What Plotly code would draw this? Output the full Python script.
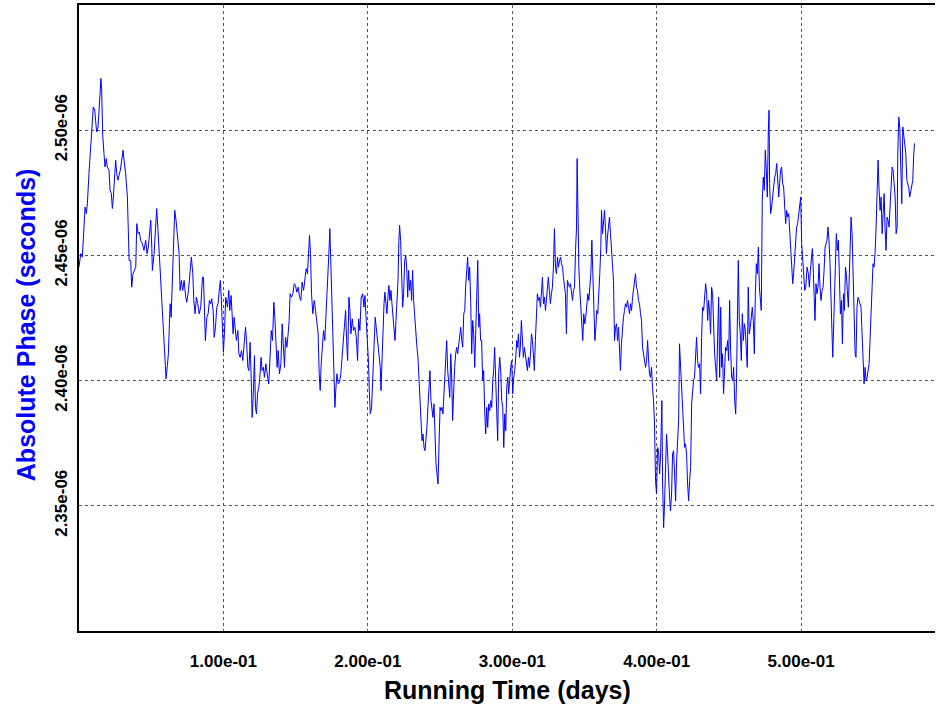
import plotly.graph_objects as go

# Running time (days)
running_time_days = [
    # segment 0 .. 0.10
    0.0000, 0.0012, 0.0023, 0.0035, 0.0042, 0.0051, 0.0058, 0.0069, 0.0081, 0.0092,
    0.0099, 0.0109, 0.0116, 0.0122, 0.0132, 0.0139, 0.0146, 0.0152, 0.0157, 0.0164,
    0.0173, 0.0180, 0.0189, 0.0196, 0.0208, 0.0215, 0.0224, 0.0231, 0.0238, 0.0245,
    0.0254, 0.0261, 0.0270, 0.0277, 0.0286, 0.0296, 0.0305, 0.0312, 0.0323, 0.0335,
    0.0342, 0.0347, 0.0358, 0.0365, 0.0374, 0.0383, 0.0393, 0.0400, 0.0409, 0.0418,
    0.0427, 0.0439, 0.0450, 0.0462, 0.0471, 0.0480, 0.0490, 0.0497, 0.0504, 0.0508,
    0.0520, 0.0529, 0.0538, 0.0547, 0.0554, 0.0566, 0.0578, 0.0587, 0.0596, 0.0603,
    0.0612, 0.0619, 0.0626, 0.0631, 0.0638, 0.0647, 0.0656, 0.0663, 0.0672, 0.0681,
    0.0693, 0.0700, 0.0709, 0.0718, 0.0728, 0.0739, 0.0746, 0.0758, 0.0769, 0.0778,
    0.0788, 0.0795, 0.0804, 0.0813, 0.0822, 0.0832, 0.0843, 0.0855, 0.0862, 0.0869,
    0.0875, 0.0885, 0.0894, 0.0903, 0.0912, 0.0919, 0.0929, 0.0936, 0.0945, 0.0954,
    0.0963, 0.0973, 0.0979, 0.0986, 0.0993, 0.1000, 0.1007, 0.1016, 0.1028, 0.1035,
    # 0.10 .. 0.20
    0.1037, 0.1044, 0.1053, 0.1060, 0.1067, 0.1074, 0.1083, 0.1090, 0.1100, 0.1107,
    0.1116, 0.1125, 0.1134, 0.1143, 0.1153, 0.1160, 0.1169, 0.1176, 0.1185, 0.1194,
    0.1199, 0.1206, 0.1215, 0.1222, 0.1229, 0.1236, 0.1245, 0.1252, 0.1261, 0.1268,
    0.1277, 0.1284, 0.1294, 0.1303, 0.1314, 0.1324, 0.1331, 0.1340, 0.1349, 0.1356,
    0.1363, 0.1372, 0.1379, 0.1388, 0.1398, 0.1407, 0.1414, 0.1423, 0.1430, 0.1439,
    0.1448, 0.1455, 0.1462, 0.1471, 0.1481, 0.1490, 0.1499, 0.1508, 0.1518, 0.1527,
    0.1536, 0.1545, 0.1555, 0.1564, 0.1573, 0.1582, 0.1589, 0.1596, 0.1603, 0.1610,
    0.1619, 0.1629, 0.1638, 0.1647, 0.1656, 0.1663, 0.1670, 0.1677, 0.1684, 0.1693,
    0.1702, 0.1712, 0.1721, 0.1730, 0.1737, 0.1744, 0.1751, 0.1758, 0.1765, 0.1772,
    0.1779, 0.1786, 0.1795, 0.1804, 0.1813, 0.1823, 0.1830, 0.1839, 0.1846, 0.1853,
    0.1860, 0.1869, 0.1876, 0.1883, 0.1892, 0.1901, 0.1910, 0.1920, 0.1929, 0.1936,
    0.1945, 0.1954, 0.1964, 0.1973, 0.1980, 0.1989, 0.1998, 0.2005, 0.2010, 0.2017, 0.2026,
    # 0.20 .. 0.30
    0.2031, 0.2038, 0.2045, 0.2051, 0.2058, 0.2065, 0.2072, 0.2079, 0.2086, 0.2091,
    0.2098, 0.2105, 0.2112, 0.2118, 0.2125, 0.2132, 0.2139, 0.2146, 0.2153, 0.2160,
    0.2167, 0.2174, 0.2181, 0.2188, 0.2195, 0.2202, 0.2209, 0.2215, 0.2220, 0.2227,
    0.2234, 0.2241, 0.2248, 0.2255, 0.2262, 0.2269, 0.2276, 0.2282, 0.2289, 0.2296,
    0.2303, 0.2310, 0.2317, 0.2324, 0.2333, 0.2340, 0.2347, 0.2354, 0.2361, 0.2368,
    0.2375, 0.2382, 0.2389, 0.2396, 0.2403, 0.2409, 0.2416, 0.2423, 0.2430, 0.2437,
    0.2444, 0.2451, 0.2458, 0.2465, 0.2472, 0.2479, 0.2486, 0.2493, 0.2500, 0.2507,
    0.2513, 0.2520, 0.2527, 0.2534, 0.2541, 0.2546, 0.2553, 0.2560, 0.2567, 0.2574,
    0.2580, 0.2587, 0.2594, 0.2601, 0.2608, 0.2615, 0.2622, 0.2629, 0.2636, 0.2643,
    0.2650, 0.2657, 0.2664, 0.2671, 0.2677, 0.2684, 0.2691, 0.2698, 0.2705, 0.2712,
    0.2719, 0.2726, 0.2733, 0.2740, 0.2747, 0.2754, 0.2761, 0.2768, 0.2774, 0.2781,
    0.2788, 0.2795, 0.2802, 0.2809, 0.2816, 0.2823, 0.2830, 0.2837, 0.2844, 0.2851,
    0.2858, 0.2865, 0.2871, 0.2878, 0.2885, 0.2892, 0.2899, 0.2906, 0.2913, 0.2920,
    0.2927, 0.2934, 0.2941, 0.2948, 0.2955, 0.2962, 0.2969, 0.2975, 0.2982, 0.2989,
    0.2996, 0.3003, 0.3010, 0.3017, 0.3024, 0.3031,
    # 0.30 .. 0.40
    0.3036, 0.3043, 0.3050, 0.3056, 0.3063, 0.3070, 0.3077, 0.3084, 0.3091, 0.3098,
    0.3105, 0.3112, 0.3119, 0.3126, 0.3133, 0.3140, 0.3147, 0.3153, 0.3160, 0.3167,
    0.3174, 0.3181, 0.3188, 0.3195, 0.3202, 0.3209, 0.3216, 0.3223, 0.3230, 0.3237,
    0.3244, 0.3250, 0.3257, 0.3264, 0.3271, 0.3278, 0.3285, 0.3292, 0.3299, 0.3306,
    0.3313, 0.3320, 0.3327, 0.3334, 0.3341, 0.3348, 0.3354, 0.3361, 0.3368, 0.3375,
    0.3382, 0.3389, 0.3396, 0.3403, 0.3410, 0.3417, 0.3424, 0.3431, 0.3438, 0.3445,
    0.3449, 0.3454,
    0.3461, 0.3468, 0.3475, 0.3481, 0.3488, 0.3495, 0.3502, 0.3509, 0.3516, 0.3523,
    0.3530, 0.3537, 0.3544, 0.3551, 0.3558, 0.3565, 0.3572, 0.3579, 0.3585, 0.3592,
    0.3599, 0.3606, 0.3613,
    0.3618,
    0.3625, 0.3632, 0.3639, 0.3645, 0.3652, 0.3659, 0.3666, 0.3673, 0.3680, 0.3687,
    0.3694, 0.3701, 0.3708, 0.3715, 0.3722, 0.3729, 0.3736, 0.3743, 0.3749, 0.3756,
    0.3763, 0.3770, 0.3777, 0.3784, 0.3791, 0.3798, 0.3805, 0.3812, 0.3819, 0.3826,
    0.3833, 0.3840, 0.3846, 0.3853, 0.3860, 0.3867, 0.3874, 0.3881, 0.3888, 0.3895,
    0.3902, 0.3909, 0.3916, 0.3923, 0.3930, 0.3937, 0.3943, 0.3950, 0.3957, 0.3964,
    0.3971, 0.3978, 0.3985, 0.3992, 0.3999, 0.4006, 0.4013, 0.4020, 0.4027,
    0.4036,
    # 0.40 .. 0.50
    0.4041, 0.4048, 0.4055, 0.4061, 0.4068, 0.4075, 0.4082, 0.4089, 0.4096, 0.4103,
    0.4110, 0.4117, 0.4124, 0.4131, 0.4138, 0.4145, 0.4152, 0.4158, 0.4165, 0.4172,
    0.4179, 0.4186, 0.4193, 0.4200, 0.4207, 0.4214, 0.4221, 0.4228, 0.4235, 0.4242,
    0.4249, 0.4255, 0.4262, 0.4269, 0.4276, 0.4283, 0.4290, 0.4297, 0.4304, 0.4311,
    0.4318, 0.4325, 0.4332, 0.4339, 0.4346, 0.4353, 0.4359, 0.4366, 0.4373, 0.4380,
    0.4387, 0.4394, 0.4401, 0.4408, 0.4415, 0.4422, 0.4429, 0.4436, 0.4443, 0.4450,
    0.4456, 0.4463, 0.4470, 0.4477, 0.4484, 0.4491, 0.4498, 0.4505, 0.4512, 0.4519,
    0.4526, 0.4533, 0.4540, 0.4547, 0.4553, 0.4560,
    0.4565,
    0.4572, 0.4579, 0.4586, 0.4593, 0.4600, 0.4607, 0.4614, 0.4620, 0.4627, 0.4634,
    0.4641, 0.4648, 0.4655, 0.4662, 0.4669, 0.4676, 0.4683, 0.4690, 0.4697, 0.4704,
    0.4711, 0.4717, 0.4724, 0.4731, 0.4738, 0.4745, 0.4752, 0.4759, 0.4766, 0.4773,
    0.4778, 0.4782,
    0.4789, 0.4796, 0.4803, 0.4810, 0.4817, 0.4824, 0.4831, 0.4838, 0.4845, 0.4851,
    0.4858, 0.4865, 0.4872, 0.4879, 0.4886, 0.4893, 0.4900, 0.4907, 0.4914, 0.4921,
    0.4928, 0.4935, 0.4942, 0.4948, 0.4955, 0.4962, 0.4969, 0.4976, 0.4983, 0.4990,
    0.4997, 0.5004, 0.5011, 0.5018, 0.5025, 0.5032,
    0.5041,
    # 0.50 .. end
    0.5050, 0.5057, 0.5064, 0.5071, 0.5078, 0.5085, 0.5092, 0.5096, 0.5103, 0.5110,
    0.5117, 0.5124, 0.5131, 0.5138, 0.5145, 0.5152, 0.5159, 0.5166, 0.5173, 0.5179,
    0.5186, 0.5193, 0.5200, 0.5207, 0.5214, 0.5219, 0.5226, 0.5230, 0.5237, 0.5244,
    0.5251, 0.5258, 0.5265, 0.5272, 0.5279, 0.5286, 0.5293, 0.5300, 0.5307, 0.5313,
    0.5320, 0.5327, 0.5334, 0.5341, 0.5346, 0.5353, 0.5360, 0.5367, 0.5374, 0.5380,
    0.5387, 0.5394, 0.5401, 0.5408, 0.5415, 0.5422, 0.5429, 0.5436, 0.5443, 0.5450,
    0.5457, 0.5464, 0.5471, 0.5477, 0.5484, 0.5491, 0.5498, 0.5505, 0.5512, 0.5519,
    0.5526, 0.5533, 0.5540, 0.5547, 0.5554, 0.5561, 0.5568, 0.5575, 0.5581, 0.5588,
    0.5595, 0.5602, 0.5609, 0.5616, 0.5623, 0.5630, 0.5637, 0.5644, 0.5651, 0.5658,
    0.5665, 0.5669, 0.5676, 0.5683, 0.5690, 0.5697, 0.5704, 0.5711, 0.5718, 0.5725,
    0.5732, 0.5739, 0.5745, 0.5752, 0.5759, 0.5766, 0.5773, 0.5780, 0.5785,
]

# Absolute phase in microseconds
phase_us = [
    2.4453, 2.4507, 2.4493, 2.4627, 2.4693, 2.4667, 2.4707, 2.4827, 2.4933, 2.4993,
    2.5093, 2.5080, 2.5040, 2.4993, 2.5013, 2.5093, 2.5153, 2.5207, 2.5160, 2.4980,
    2.4907, 2.4853, 2.4887, 2.4853, 2.4840, 2.4760, 2.4747, 2.4687, 2.4733, 2.4813,
    2.4880, 2.4827, 2.4800, 2.4820, 2.4840, 2.4880, 2.4920, 2.4880, 2.4827, 2.4733,
    2.4587, 2.4480, 2.4480, 2.4373, 2.4427, 2.4440, 2.4453, 2.4627, 2.4587, 2.4593,
    2.4560, 2.4547, 2.4520, 2.4560, 2.4507, 2.4533, 2.4587, 2.4640, 2.4533, 2.4440,
    2.4507, 2.4587, 2.4687, 2.4600, 2.4520, 2.4387, 2.4293, 2.4147, 2.4067, 2.4007,
    2.4060, 2.4107, 2.4227, 2.4307, 2.4253, 2.4440, 2.4627, 2.4680, 2.4640, 2.4587,
    2.4507, 2.4360, 2.4400, 2.4360, 2.4400, 2.4333, 2.4313, 2.4360, 2.4427, 2.4493,
    2.4427, 2.4320, 2.4267, 2.4333, 2.4307, 2.4267, 2.4293, 2.4413, 2.4413, 2.4267,
    2.4160, 2.4253, 2.4267, 2.4320, 2.4307, 2.4327, 2.4280, 2.4173, 2.4213, 2.4293,
    2.4307, 2.4373, 2.4400, 2.4320, 2.4173, 2.4113, 2.4187, 2.4333, 2.4293, 2.4360,
    # 0.10 .. 0.20
    2.4360, 2.4280, 2.4340, 2.4267, 2.4187, 2.4253, 2.4213, 2.4160, 2.4200, 2.4107,
    2.4093, 2.4120, 2.4080, 2.4133, 2.4213, 2.4160, 2.4053, 2.4040, 2.4153, 2.3973,
    2.3853, 2.3933, 2.4100, 2.3893, 2.3867, 2.3947, 2.3973, 2.4013, 2.4093, 2.4040,
    2.4053, 2.4013, 2.4067, 2.4027, 2.3987, 2.4107, 2.4200, 2.4160, 2.4313, 2.4253,
    2.4133, 2.4053, 2.4120, 2.4027, 2.4067, 2.4227, 2.4147, 2.4053, 2.4173, 2.4133,
    2.4187, 2.4240, 2.4347, 2.4333, 2.4347, 2.4387, 2.4380, 2.4353, 2.4373, 2.4333,
    2.4320, 2.4393, 2.4360, 2.4400, 2.4447, 2.4427, 2.4493, 2.4580, 2.4507, 2.4347,
    2.4267, 2.4320, 2.4280, 2.4227, 2.4187, 2.4027, 2.3960, 2.4067, 2.4133, 2.4200,
    2.4160, 2.4267, 2.4360, 2.4507, 2.4607, 2.4440, 2.4280, 2.4107, 2.4000, 2.3893,
    2.3973, 2.4027, 2.3987, 2.3993, 2.4027, 2.4107, 2.4147, 2.4240, 2.4280, 2.4160,
    2.4080, 2.4333, 2.4280, 2.4187, 2.4247, 2.4200, 2.4213, 2.4173, 2.4080, 2.4247,
    2.4200, 2.4333, 2.4347, 2.4293, 2.4340, 2.4240, 2.4160, 2.4067, 2.3960, 2.3867, 2.3893,
    # 0.20 .. 0.30
    2.3973, 2.4120, 2.4200, 2.4253, 2.4213, 2.4173, 2.4120, 2.4067, 2.4053, 2.3960,
    2.4107, 2.4200, 2.4307, 2.4353, 2.4320, 2.4267, 2.4333, 2.4380, 2.4320, 2.4360,
    2.4307, 2.4267, 2.4213, 2.4160, 2.4240, 2.4333, 2.4400, 2.4560, 2.4620, 2.4560,
    2.4400, 2.4293, 2.4347, 2.4480, 2.4500, 2.4453, 2.4333, 2.4440, 2.4360, 2.4400,
    2.4320, 2.4440, 2.4320, 2.4253, 2.4160, 2.4133, 2.4093, 2.4013, 2.3920, 2.3813,
    2.3760, 2.3787, 2.3733, 2.3720, 2.3760, 2.3813, 2.3893, 2.3947, 2.4040, 2.3920,
    2.3893, 2.3853, 2.3907, 2.3720, 2.3667, 2.3627, 2.3587, 2.3747, 2.3893, 2.3880,
    2.3893, 2.3867, 2.3947, 2.3973, 2.4080, 2.4160, 2.4040, 2.3973, 2.3933, 2.4107,
    2.4027, 2.3840, 2.4000, 2.4053, 2.4107, 2.4133, 2.4107, 2.4147, 2.4200, 2.4213,
    2.4160, 2.4133, 2.4267, 2.4280, 2.4373, 2.4427, 2.4493, 2.4400, 2.4453, 2.4320,
    2.4107, 2.4240, 2.4187, 2.4053, 2.4213, 2.4293, 2.4480, 2.4213, 2.4267, 2.4160,
    2.4160, 2.4000, 2.4040, 2.3880, 2.3787, 2.3893, 2.3813, 2.3907, 2.3880, 2.3920,
    2.3893, 2.4000, 2.4040, 2.4133, 2.4013, 2.3947, 2.3760, 2.4027, 2.4093, 2.4040,
    2.3920, 2.3893, 2.3733, 2.3867, 2.3800, 2.3973, 2.4013, 2.3947, 2.4027, 2.4053,
    2.4080, 2.3947, 2.4013, 2.4040, 2.4093, 2.4160,
    # 0.30 .. 0.40
    2.4133, 2.4187, 2.4093, 2.4133, 2.4240, 2.4147, 2.4093, 2.4133, 2.4107, 2.4080,
    2.4040, 2.4093, 2.4053, 2.4107, 2.4187, 2.4160, 2.4080, 2.4040, 2.4160, 2.4293,
    2.4347, 2.4320, 2.4333, 2.4293, 2.4387, 2.4413, 2.4307, 2.4333, 2.4280, 2.4320,
    2.4387, 2.4413, 2.4360, 2.4307, 2.4347, 2.4373, 2.4453, 2.4607, 2.4453, 2.4427,
    2.4493, 2.4453, 2.4480, 2.4493, 2.4467, 2.4453, 2.4413, 2.4373, 2.4347, 2.4187,
    2.4400, 2.4387, 2.4373, 2.4387, 2.4347, 2.4320, 2.4360, 2.4373, 2.4520, 2.4613,
    2.4887, 2.4573,
    2.4453, 2.4360, 2.4293, 2.4227, 2.4160, 2.4267, 2.4227, 2.4253, 2.4293, 2.4347,
    2.4320, 2.4360, 2.4427, 2.4560, 2.4453, 2.4280, 2.4160, 2.4213, 2.4280, 2.4267,
    2.4333, 2.4427, 2.4533,
    2.4680,
    2.4587, 2.4653, 2.4680, 2.4613, 2.4507, 2.4573, 2.4627, 2.4653, 2.4587, 2.4533,
    2.4480, 2.4400, 2.4160, 2.4213, 2.4227, 2.4160, 2.4213, 2.4133, 2.4040, 2.4147,
    2.4213, 2.4253, 2.4280, 2.4307, 2.4293, 2.4320, 2.4293, 2.4267, 2.4307, 2.4280,
    2.4333, 2.4373, 2.4400, 2.4427, 2.4373, 2.4360, 2.4320, 2.4307, 2.4267, 2.4240,
    2.4133, 2.4107, 2.4067, 2.4053, 2.4080, 2.4160, 2.4093, 2.4027, 2.4013, 2.4053,
    2.3973, 2.3920, 2.3827, 2.3600, 2.3547, 2.3733, 2.3720, 2.3627, 2.3707,
    2.3920,
    # 0.40 .. 0.50
    2.3587, 2.3413, 2.3520, 2.3653, 2.3787, 2.3720, 2.3587, 2.3533, 2.3480, 2.3547,
    2.3707, 2.3720, 2.3627, 2.3520, 2.3680, 2.3787, 2.3840, 2.4147, 2.4067, 2.3947,
    2.3907, 2.3840, 2.3733, 2.3747, 2.3707, 2.3587, 2.3520, 2.3600, 2.3653, 2.3907,
    2.3973, 2.4000, 2.4013, 2.4080, 2.4173, 2.4080, 2.4053, 2.4067, 2.3947, 2.4173,
    2.4293, 2.4280, 2.4320, 2.4387, 2.4347, 2.4240, 2.4320, 2.4280, 2.4187, 2.4373,
    2.4347, 2.4200, 2.4107, 2.4053, 2.4000, 2.4173, 2.4333, 2.4013, 2.4293, 2.4053,
    2.4107, 2.3947, 2.4067, 2.4133, 2.4120, 2.4160, 2.4080, 2.4320, 2.4120, 2.4013,
    2.4000, 2.4053, 2.3920, 2.3867, 2.4013, 2.4333,
    2.4480,
    2.4240, 2.4187, 2.4080, 2.4267, 2.4160, 2.4227, 2.4200, 2.4107, 2.4053, 2.4373,
    2.4187, 2.4213, 2.4267, 2.4293, 2.4240, 2.4107, 2.4347, 2.4467, 2.4427, 2.4533,
    2.4373, 2.4320, 2.4280, 2.4720, 2.4813, 2.4760, 2.4920, 2.4840, 2.4733, 2.5000,
    2.5080, 2.4787,
    2.4667, 2.4693, 2.4747, 2.4773, 2.4813, 2.4827, 2.4867, 2.4800, 2.4733, 2.4787,
    2.4840, 2.4853, 2.4787, 2.4773, 2.4693, 2.4627, 2.4680, 2.4653, 2.4667, 2.4587,
    2.4547, 2.4413, 2.4387, 2.4427, 2.4507, 2.4587, 2.4613, 2.4627, 2.4667, 2.4707,
    2.4733, 2.4547, 2.4493, 2.4427, 2.4360, 2.4373,
    2.4453,
    # 0.50 .. end
    2.4427, 2.4373, 2.4440, 2.4493, 2.4527, 2.4427, 2.4307, 2.4240, 2.4387, 2.4347,
    2.4373, 2.4467, 2.4373, 2.4320, 2.4360, 2.4373, 2.4440, 2.4533, 2.4547, 2.4560,
    2.4613, 2.4560, 2.4467, 2.4360, 2.4187, 2.4093, 2.4280, 2.4400, 2.4453, 2.4587,
    2.4520, 2.4560, 2.4360, 2.4267, 2.4320, 2.4147, 2.4347, 2.4280, 2.4453, 2.4427,
    2.4360, 2.4293, 2.4427, 2.4533, 2.4653, 2.4587, 2.4453, 2.4240, 2.4107, 2.4093,
    2.4293, 2.4333, 2.4320, 2.4307, 2.4293, 2.4187, 2.4067, 2.3987, 2.4053, 2.4000,
    2.4013, 2.4040, 2.4067, 2.4160, 2.4253, 2.4373, 2.4467, 2.4453, 2.4507, 2.4613,
    2.4813, 2.4880, 2.4760, 2.4680, 2.4733, 2.4587, 2.4667, 2.4747, 2.4613, 2.4520,
    2.4653, 2.4640, 2.4613, 2.4707, 2.4773, 2.4853, 2.4840, 2.4760, 2.4733, 2.4587,
    2.4613, 2.4893, 2.5053, 2.5013, 2.4853, 2.4707, 2.5013, 2.4973, 2.4933, 2.4907,
    2.4800, 2.4787, 2.4773, 2.4733, 2.4760, 2.4787, 2.4800, 2.4907, 2.4947,
]

x_tick_vals = [0.1, 0.2, 0.3, 0.4, 0.5]
x_tick_text = ["1.00e-01", "2.00e-01", "3.00e-01", "4.00e-01", "5.00e-01"]
y_tick_vals = [2.35e-06, 2.40e-06, 2.45e-06, 2.50e-06]
y_tick_text = ["2.35e-06", "2.40e-06", "2.45e-06", "2.50e-06"]

phase_seconds = [v * 1e-6 for v in phase_us]

FONT = "Liberation Sans, Arial, sans-serif"

fig = go.Figure()
fig.add_trace(go.Scatter(
    x=running_time_days, y=phase_seconds, mode="lines",
    line=dict(color="#0000ff", width=1), hoverinfo="skip",
))

fig.update_layout(
    width=937, height=708,
    margin=dict(l=79, r=2, t=5, b=77, autoexpand=False),
    plot_bgcolor="white", paper_bgcolor="white",
    showlegend=False,
    xaxis=dict(
        range=[0, 0.5927], tickvals=x_tick_vals, ticktext=x_tick_text,
        showgrid=True, gridcolor="#555555", griddash="dot", gridwidth=1,
        showline=True, linecolor="black", linewidth=2, mirror=True,
        ticks="", zeroline=False, ticklabelstandoff=14, automargin=False,
        tickfont=dict(family=FONT, size=17, color="black", weight="bold"),
    ),
    yaxis=dict(
        range=[2.30e-06, 2.55e-06], tickvals=y_tick_vals, ticktext=y_tick_text,
        showgrid=True, gridcolor="#555555", griddash="dot", gridwidth=1,
        showline=True, linecolor="black", linewidth=2, mirror=False,
        ticks="", zeroline=False, tickangle=-90, ticklabelstandoff=3,
        automargin=False,
        tickfont=dict(family=FONT, size=17, color="black", weight="bold"),
    ),
    annotations=[
        dict(text="Running Time (days)", xref="paper", yref="paper",
             x=0.5, y=-0.094, xanchor="center", yanchor="middle", showarrow=False,
             font=dict(family=FONT, size=25, color="black", weight="bold")),
        dict(text="Absolute Phase (seconds)", xref="paper", yref="paper",
             x=-0.0620, y=0.49, xanchor="center", yanchor="middle", showarrow=False,
             textangle=-90,
             font=dict(family=FONT, size=25, color="#0000ff", weight="bold")),
    ],
)

fig.write_html(
    "out.html",
    config={"displayModeBar": False},
    post_script="document.body.style.margin='0';document.body.style.padding='0';",
)
